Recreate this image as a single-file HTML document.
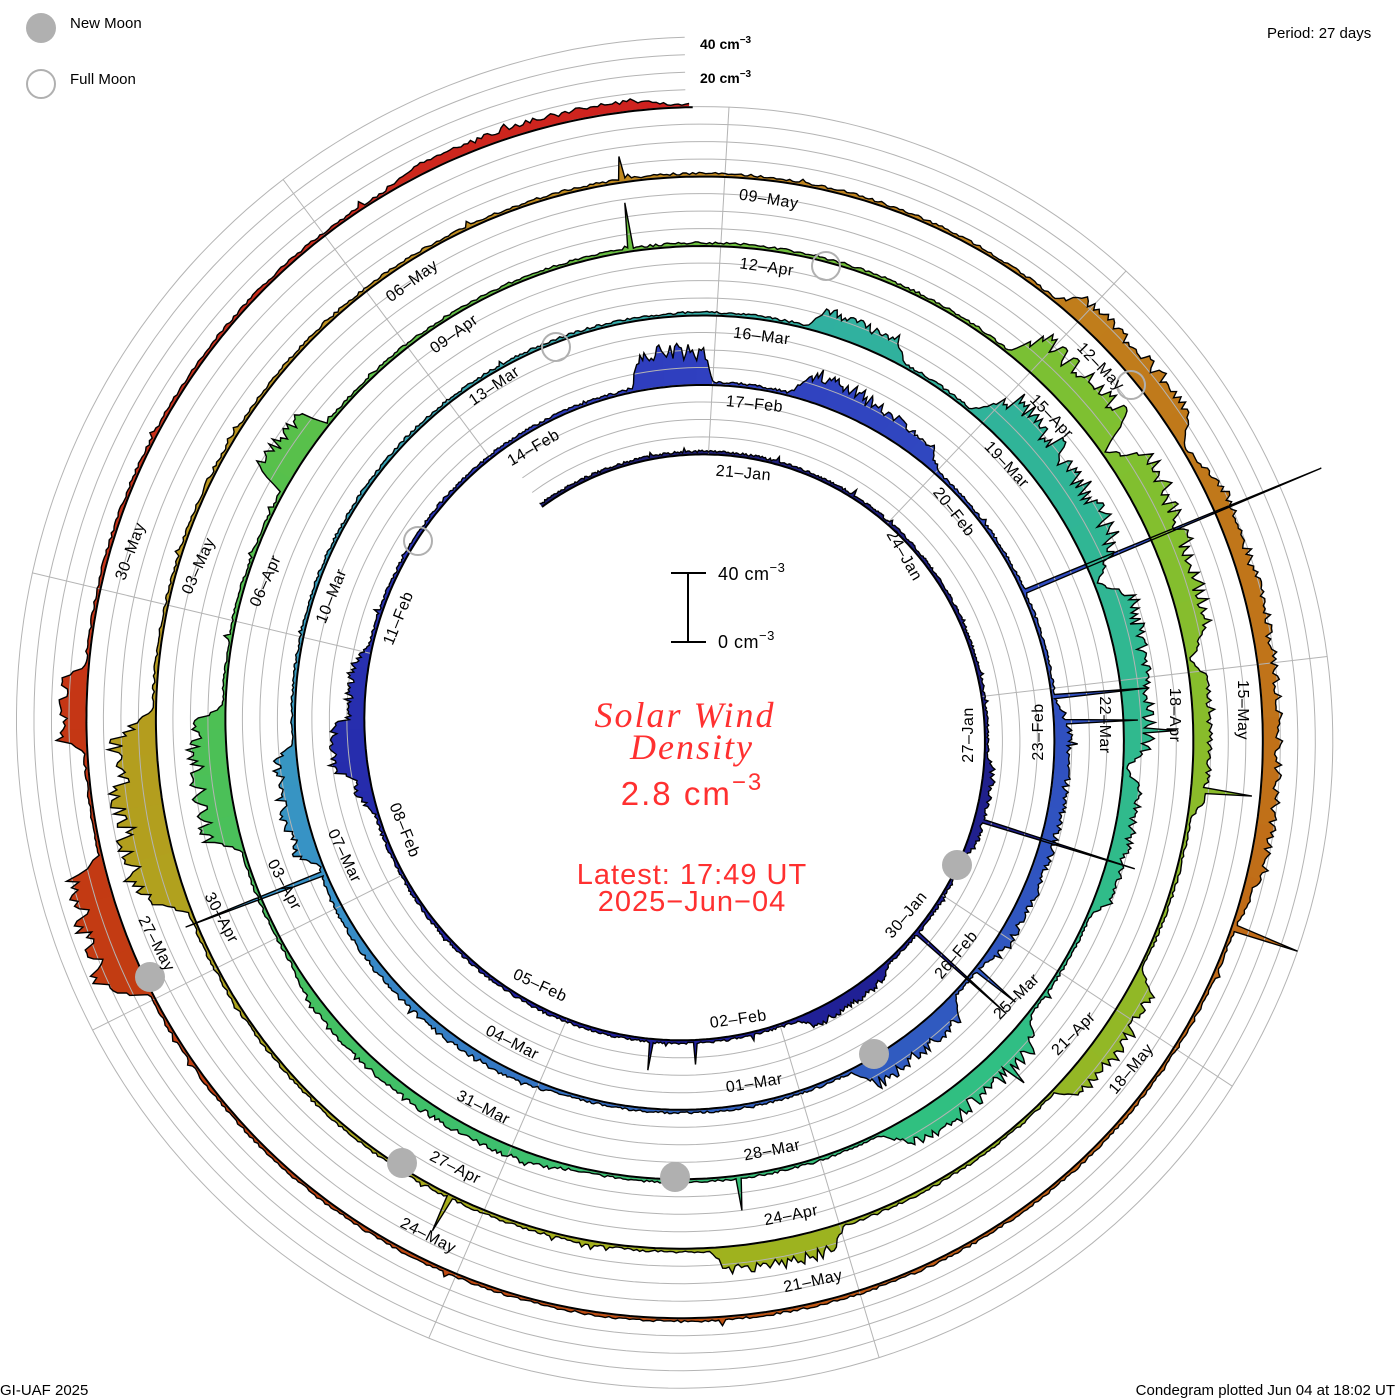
<!DOCTYPE html>
<html><head><meta charset="utf-8">
<style>
html,body{margin:0;padding:0;background:#fff;}
svg{display:block;}
.lab{font-family:"Liberation Sans",sans-serif;font-size:16px;fill:#000;letter-spacing:0.5px;}
.sm{font-family:"Liberation Sans",sans-serif;font-size:15px;fill:#000;}
.red{font-family:"Liberation Sans",sans-serif;fill:#ff3030;}
.ser{font-family:"Liberation Serif",serif;font-style:italic;fill:#ff3030;}
</style></head>
<body>
<svg id="s" width="1400" height="1400" viewBox="0 0 1400 1400" xmlns="http://www.w3.org/2000/svg">
<g id="guides"></g>
<g id="fills"></g>
<g id="guides2"></g>
<g id="lines"></g>
<g id="moons">
<circle cx="41" cy="28" r="15" fill="#b0b0b0"/>
<circle cx="41" cy="84" r="14" fill="none" stroke="#b0b0b0" stroke-width="2"/>
<circle cx="957" cy="865" r="15" fill="#b0b0b0"/>
<circle cx="874" cy="1054" r="15" fill="#b0b0b0"/>
<circle cx="675" cy="1177" r="15" fill="#b0b0b0"/>
<circle cx="402" cy="1163" r="15" fill="#b0b0b0"/>
<circle cx="150" cy="977" r="15" fill="#b0b0b0"/>
<circle cx="826" cy="266" r="14" fill="none" stroke="#b0b0b0" stroke-width="2"/>
<circle cx="556" cy="347" r="14" fill="none" stroke="#b0b0b0" stroke-width="2"/>
<circle cx="418" cy="541" r="14" fill="none" stroke="#b0b0b0" stroke-width="2"/>
<circle cx="1131" cy="385" r="14" fill="none" stroke="#b0b0b0" stroke-width="2"/>
</g>
<g id="labels">
<text class="lab" text-anchor="middle" transform="translate(743,478) rotate(5)">21–Jan</text>
<text class="lab" text-anchor="middle" transform="translate(900,558) rotate(60)">24–Jan</text>
<text class="lab" text-anchor="middle" transform="translate(973,735) rotate(-90)">27–Jan</text>
<text class="lab" text-anchor="middle" transform="translate(910,918) rotate(-50)">30–Jan</text>
<text class="lab" text-anchor="middle" transform="translate(739,1024) rotate(-8)">02–Feb</text>
<text class="lab" text-anchor="middle" transform="translate(538,990) rotate(25)">05–Feb</text>
<text class="lab" text-anchor="middle" transform="translate(400,832) rotate(68)">08–Feb</text>
<text class="lab" text-anchor="middle" transform="translate(403,620) rotate(-68)">11–Feb</text>
<text class="lab" text-anchor="middle" transform="translate(536,452) rotate(-30)">14–Feb</text>
<text class="lab" text-anchor="middle" transform="translate(754,409) rotate(6)">17–Feb</text>
<text class="lab" text-anchor="middle" transform="translate(950,515) rotate(52)">20–Feb</text>
<text class="lab" text-anchor="middle" transform="translate(1043,732) rotate(-90)">23–Feb</text>
<text class="lab" text-anchor="middle" transform="translate(960,958) rotate(-50)">26–Feb</text>
<text class="lab" text-anchor="middle" transform="translate(755,1088) rotate(-9)">01–Mar</text>
<text class="lab" text-anchor="middle" transform="translate(510,1047) rotate(27)">04–Mar</text>
<text class="lab" text-anchor="middle" transform="translate(340,858) rotate(64)">07–Mar</text>
<text class="lab" text-anchor="middle" transform="translate(336,598) rotate(-68)">10–Mar</text>
<text class="lab" text-anchor="middle" transform="translate(497,390) rotate(-34)">13–Mar</text>
<text class="lab" text-anchor="middle" transform="translate(761,341) rotate(7)">16–Mar</text>
<text class="lab" text-anchor="middle" transform="translate(1003,468) rotate(47)">19–Mar</text>
<text class="lab" text-anchor="middle" transform="translate(1100,725) rotate(90)">22–Mar</text>
<text class="lab" text-anchor="middle" transform="translate(1020,1000) rotate(-45)">25–Mar</text>
<text class="lab" text-anchor="middle" transform="translate(773,1155) rotate(-11)">28–Mar</text>
<text class="lab" text-anchor="middle" transform="translate(481,1112) rotate(27)">31–Mar</text>
<text class="lab" text-anchor="middle" transform="translate(280,887) rotate(62)">03–Apr</text>
<text class="lab" text-anchor="middle" transform="translate(270,583) rotate(-66)">06–Apr</text>
<text class="lab" text-anchor="middle" transform="translate(457,338) rotate(-36)">09–Apr</text>
<text class="lab" text-anchor="middle" transform="translate(766,272) rotate(8)">12–Apr</text>
<text class="lab" text-anchor="middle" transform="translate(1048,420) rotate(46)">15–Apr</text>
<text class="lab" text-anchor="middle" transform="translate(1170,715) rotate(90)">18–Apr</text>
<text class="lab" text-anchor="middle" transform="translate(1077,1037) rotate(-45)">21–Apr</text>
<text class="lab" text-anchor="middle" transform="translate(792,1220) rotate(-11)">24–Apr</text>
<text class="lab" text-anchor="middle" transform="translate(453,1172) rotate(27)">27–Apr</text>
<text class="lab" text-anchor="middle" transform="translate(217,920) rotate(62)">30–Apr</text>
<text class="lab" text-anchor="middle" transform="translate(203,568) rotate(-66)">03–May</text>
<text class="lab" text-anchor="middle" transform="translate(415,285) rotate(-36)">06–May</text>
<text class="lab" text-anchor="middle" transform="translate(768,204) rotate(9)">09–May</text>
<text class="lab" text-anchor="middle" transform="translate(1097,370) rotate(46)">12–May</text>
<text class="lab" text-anchor="middle" transform="translate(1238,710) rotate(90)">15–May</text>
<text class="lab" text-anchor="middle" transform="translate(1135,1072) rotate(-50)">18–May</text>
<text class="lab" text-anchor="middle" transform="translate(814,1286) rotate(-12)">21–May</text>
<text class="lab" text-anchor="middle" transform="translate(426,1240) rotate(27)">24–May</text>
<text class="lab" text-anchor="middle" transform="translate(152,946) rotate(62)">27–May</text>
<text class="lab" text-anchor="middle" transform="translate(135,553) rotate(-70)">30–May</text>
</g>
<text class="sm" x="70" y="28">New Moon</text>
<text class="sm" x="70" y="84">Full Moon</text>
<text class="sm" x="1267" y="38">Period: 27 days</text>
<text class="sm" x="0" y="1395">GI-UAF 2025</text>
<text class="sm" x="1395" y="1395" text-anchor="end">Condegram plotted Jun 04 at 18:02 UT</text>
<text class="sm" x="700" y="49" style="font-weight:bold;font-size:14px">40 cm<tspan dy="-6" font-size="10">−3</tspan></text>
<text class="sm" x="700" y="83" style="font-weight:bold;font-size:14px">20 cm<tspan dy="-6" font-size="10">−3</tspan></text>
<g stroke="#000" stroke-width="2">
<line x1="688" y1="573" x2="688" y2="642"/>
<line x1="671" y1="573" x2="706" y2="573"/>
<line x1="671" y1="642" x2="706" y2="642"/>
</g>
<text class="lab" x="718" y="580" style="font-size:18px">40 cm<tspan dy="-8" font-size="13">−3</tspan></text>
<text class="lab" x="718" y="648" style="font-size:18px">0 cm<tspan dy="-8" font-size="13">−3</tspan></text>
<text class="ser" x="685" y="727" text-anchor="middle" font-size="36" letter-spacing="2">Solar Wind</text>
<text class="ser" x="692" y="759" text-anchor="middle" font-size="36" letter-spacing="2">Density</text>
<text class="red" x="692" y="805" text-anchor="middle" font-size="33" letter-spacing="2">2.8 cm<tspan dy="-15" font-size="24">−3</tspan></text>
<text class="red" x="692" y="884" text-anchor="middle" font-size="29" letter-spacing="1">Latest: 17:49 UT</text>
<text class="red" x="692" y="911" text-anchor="middle" font-size="29" letter-spacing="1">2025−Jun−04</text>
</svg>
<script>
(function(){
var CX=692,CY=730,NS="http://www.w3.org/2000/svg";
var D0=-2.8,D1=134.75,K=360/27,PX=1.75;
function ang(d){return (3.4+d*K)*Math.PI/180;}
function rad(d){return 276+2.574*d;}
function pt(d,off){var a=ang(d),r=rad(d)+off;return [CX+r*Math.sin(a),CY-r*Math.cos(a)];}
function el(t,at,p){var e=document.createElementNS(NS,t);for(var k in at)e.setAttribute(k,at[k]);document.getElementById(p).appendChild(e);return e;}
function f(x){return x.toFixed(1);}
var seed=12345;function rnd(){seed|=0;seed=seed+0x6D2B79F5|0;var t=Math.imul(seed^seed>>>15,1|seed);t=t+Math.imul(t^t>>>7,61|t)^t;return((t^t>>>14)>>>0)/4294967296;}
function D(turn,a){return 27*(turn-1)+(a-3.4)/K;}
var feats=[[1,95,115,4,4],[1,140,160,6,8],[1,255,285,8,9],[1,262,272,12,10],
[2,-10,3.4,20,20],[2,16,44,18,8],[2,85,130,8,7],[2,135,155,12,15],[2,200,250,3,3],[2,250,268,12,12],
[3,16,30,12,12],[3,41,70,25,20],[3,70,95,18,14],[3,95,115,10,8],[3,130,155,15,14],[3,195,240,5,5],[3,255,273,20,18],[3,300,310,20,18],
[4,40,56,20,26],[4,56,82,24,14],[4,82,100,10,8],[4,118,135,14,14],[4,163,178,14,14],[4,250,272,28,24],
[5,40,60,12,14],[5,60,110,10,8],[5,244,258,25,22],[5,268,276,15,12],[5,330,358,4,5]];
var F=feats.map(function(q){return [D(q[0],q[1]),D(q[0],q[2]),q[3],q[4]];});
var spikes=[[7.8,96],[9.65,70],[31.8,185],[33.1,55],[33.4,48],[45.4,86],[116,40],[80.2,28],[107.2,15],[13.2,14],[96.3,23],[60.5,30],[88,35],[36.5,30],[64,25],[13.8,18],[66.8,20]];
var stops=[[-3,[32,32,112]],[15,[32,32,160]],[27,[48,64,192]],[40,[48,96,192]],[45,[56,144,200]],[55,[48,176,160]],[65,[48,192,128]],[75,[80,192,80]],[85,[128,192,48]],[95,[163,176,28]],[105,[192,144,32]],[115,[192,112,24]],[125,[192,64,16]],[135,[208,32,32]]];
function col(d){for(var i=0;i<stops.length-1;i++){if(d<=stops[i+1][0]){var t=Math.max(0,(d-stops[i][0])/(stops[i+1][0]-stops[i][0]));var a=stops[i][1],b=stops[i+1][1];return "rgb("+[0,1,2].map(function(k){return Math.round(a[k]+(b[k]-a[k])*t);}).join(",")+")";}}return "rgb(208,32,32)";}
var step=0.025,ds=[],vs=[];
for(var d=D0;d<=D1;d+=step){
 var v=1.2+1.3*rnd()+ (rnd()<0.02?rnd()*3:0);
 for(var i=0;i<F.length;i++){var q=F[i];if(d>=q[0]&&d<=q[1]){var t=(d-q[0])/(q[1]-q[0]);var h=q[2]+(q[3]-q[2])*t;var e=Math.min(1,Math.min(t,1-t)*8);v+=h*e*(0.6+0.5*rnd());}}
 ds.push(d);vs.push(v);}
for(var s=0;s<spikes.length;s++){var idx=Math.round((spikes[s][0]-D0)/step);if(idx>=0&&idx<vs.length)vs[idx]=spikes[s][1];}
var gp=[];for(var k=1;k<=4;k++){var p="";for(var d=D0;d<=D1;d+=0.1){var q=pt(d,k*17.5);p+=(p?"L":"M")+f(q[0])+","+f(q[1]);}gp.push(p);}
gp.forEach(function(p){el("path",{d:p,fill:"none",stroke:"#b4b4b4","stroke-width":"1"},"guides2");});
for(var k=0;k<9;k++){var a=3.4+40*k;var dIn=(a-3.4)/K;while(dIn-27>=D0)dIn-=27;if(dIn<D0)dIn+=27;var dOut=dIn;while(dOut+27<=D1)dOut+=27;
 var A=a*Math.PI/180,r1=rad(dIn),r2=rad(dOut)+70;
 el("line",{x1:f(CX+r1*Math.sin(A)),y1:f(CY-r1*Math.cos(A)),x2:f(CX+r2*Math.sin(A)),y2:f(CY-r2*Math.cos(A)),stroke:"#b4b4b4","stroke-width":"1"},"guides2");}
var chunk=16;
for(var i=0;i<ds.length-1;i+=chunk){var j=Math.min(ds.length-1,i+chunk+1);var outer="",inner=[];
 for(var m=i;m<=j;m++){var o=pt(ds[m],vs[m]*PX);outer+=(outer?"L":"M")+f(o[0])+","+f(o[1]);var b=pt(ds[m],0);inner.push(f(b[0])+","+f(b[1]));}
 el("path",{d:outer+"L"+inner.reverse().join("L")+"Z",fill:col(ds[Math.floor((i+j)/2)]),stroke:"none"},"fills");}
var op="";for(var m=0;m<ds.length;m++){var o=pt(ds[m],vs[m]*PX);op+=(op?"L":"M")+f(o[0])+","+f(o[1]);}
el("path",{d:op,fill:"none",stroke:"#000","stroke-width":"1.4","stroke-linejoin":"miter"},"lines");
var bp="";for(var d=D0;d<=D1;d+=0.05){var q=pt(d,0);bp+=(bp?"L":"M")+f(q[0])+","+f(q[1]);}
el("path",{d:bp,fill:"none",stroke:"#000","stroke-width":"2"},"lines");
})();
</script>
</body></html>
